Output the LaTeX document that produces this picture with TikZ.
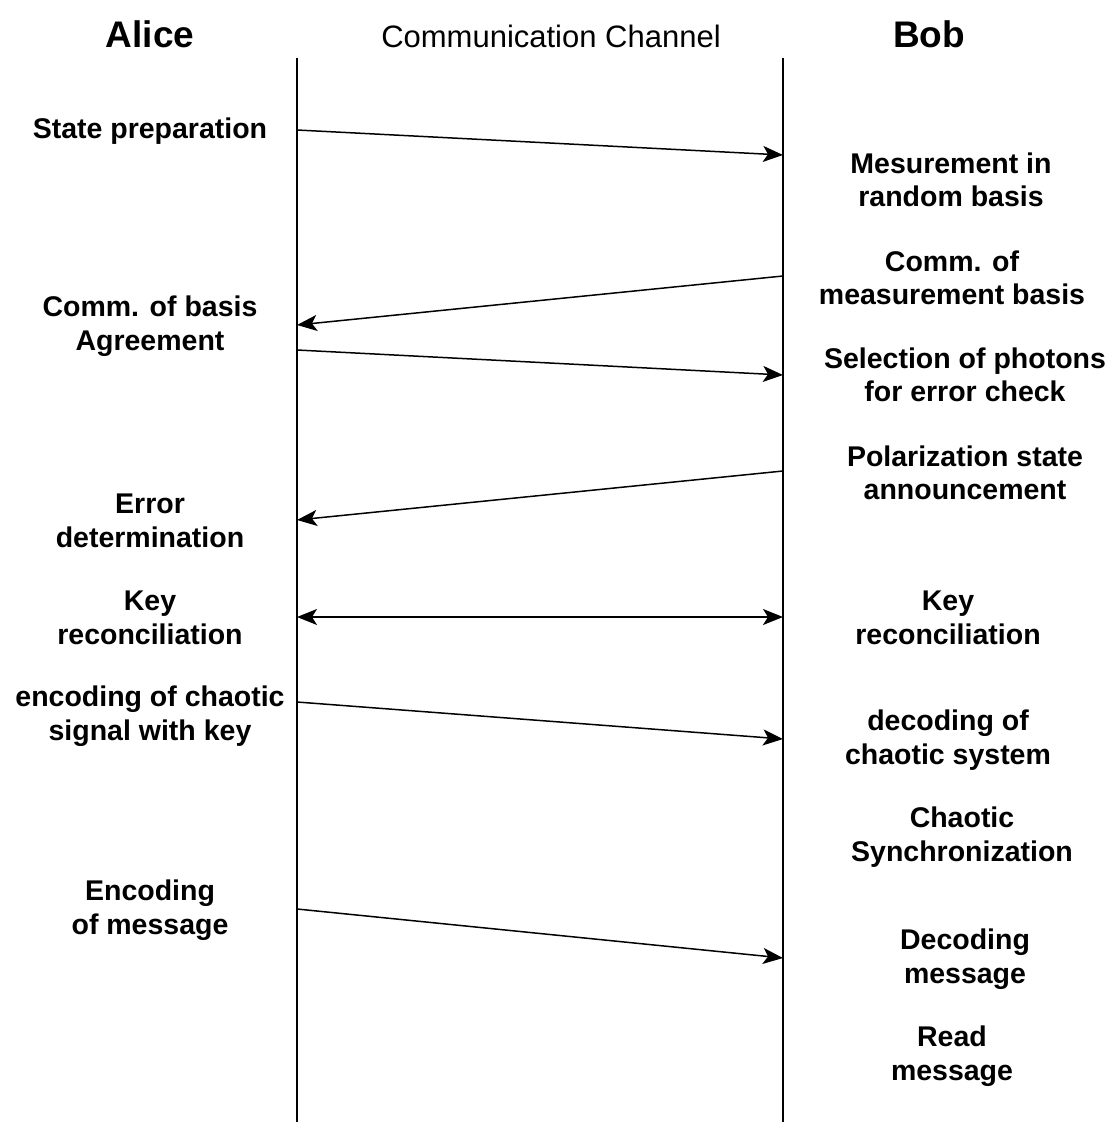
\documentclass[tikz,border=0pt]{standalone}
\usepackage{fontspec}
\setmainfont{Liberation Sans}
\usetikzlibrary{arrows.meta}

\begin{document}
\begin{tikzpicture}[x=1pt, y=-1pt,
		party/.style={font=\bfseries\fontsize{37}{44}\selectfont},
		chan/.style={font=\fontsize{31}{37}\selectfont},
		msg/.style={align=center, inner sep=0pt, font=\bfseries\fontsize{28.5}{33.5}\selectfont},
		life/.style={line width=2pt},
		arr/.style={line width=1.5pt, -{Stealth[length=20pt, width=16pt, inset=5pt]}},
		arrboth/.style={line width=1.5pt, {Stealth[length=20pt, width=16pt, inset=5pt]}-{Stealth[length=20pt, width=16pt, inset=5pt]}}]
		%%%%% START %%%%%
		\useasboundingbox (0, 0) rectangle (1115, 1122);
		
		% headers
		\node[party] (alice) at (150, 34) {Alice};
		\node[chan] (chn) at (551, 36) {Communication Channel};
		\node[party] (bob) at (929, 34) {Bob};
		
		% lifelines
		\coordinate (atop) at (297, 58);
		\coordinate (abot) at (297, 1122);
		\coordinate (btop) at (783, 58);
		\coordinate (bbot) at (783, 1122);
		\draw[life] (atop) -- (abot);
		\draw[life] (btop) -- (bbot);
		
		% Alice side
		\node[msg] (prep) at (150, 131) {State preparation};
		\node[msg] (agree) at (150, 326) {Comm. of basis\\Agreement};
		\node[msg] (err) at (150, 521) {Error\\determination};
		\node[msg] (keya) at (150, 618) {Key\\reconciliation};
		\node[msg] (enc) at (150, 716) {encoding of chaotic\\signal with key};
		\node[msg] (encm) at (150, 910) {Encoding\\of message};
		
		% Bob side
		\node[msg] (meas) at (951, 180) {Mesurement in\\random basis};
		\node[msg] (commb) at (952, 278) {Comm. of\\measurement basis};
		\node[msg] (sel) at (965, 375) {Selection of photons\\for error check};
		\node[msg] (pol) at (965, 473) {Polarization state\\announcement};
		\node[msg] (keyb) at (948, 618) {Key\\reconciliation};
		\node[msg] (dec) at (948, 740) {decoding of\\chaotic system};
		\node[msg] (sync) at (962, 837) {Chaotic\\Synchronization};
		\node[msg] (decm) at (965, 959) {Decoding\\message};
		\node[msg] (read) at (952, 1056) {Read\\message};
		
		% message ends on the lifelines
		\coordinate (a1) at (297, 130);  \coordinate (b1) at (783, 155);
		\coordinate (b2) at (783, 276);  \coordinate (a2) at (297, 325);
		\coordinate (a3) at (297, 350);  \coordinate (b3) at (783, 375);
		\coordinate (b4) at (783, 471);  \coordinate (a4) at (297, 520);
		\coordinate (a5) at (297, 617);  \coordinate (b5) at (783, 617);
		\coordinate (a6) at (297, 702);  \coordinate (b6) at (783, 739);
		\coordinate (a7) at (297, 909);  \coordinate (b7) at (783, 958);
		
		\draw[arr] (a1) -- (b1);
		\draw[arr] (b2) -- (a2);
		\draw[arr] (a3) -- (b3);
		\draw[arr] (b4) -- (a4);
		\draw[arrboth] (a5) -- (b5);
		\draw[arr] (a6) -- (b6);
		\draw[arr] (a7) -- (b7);
		
		%%%%% END %%%%%
	\end{tikzpicture}
\end{document}
